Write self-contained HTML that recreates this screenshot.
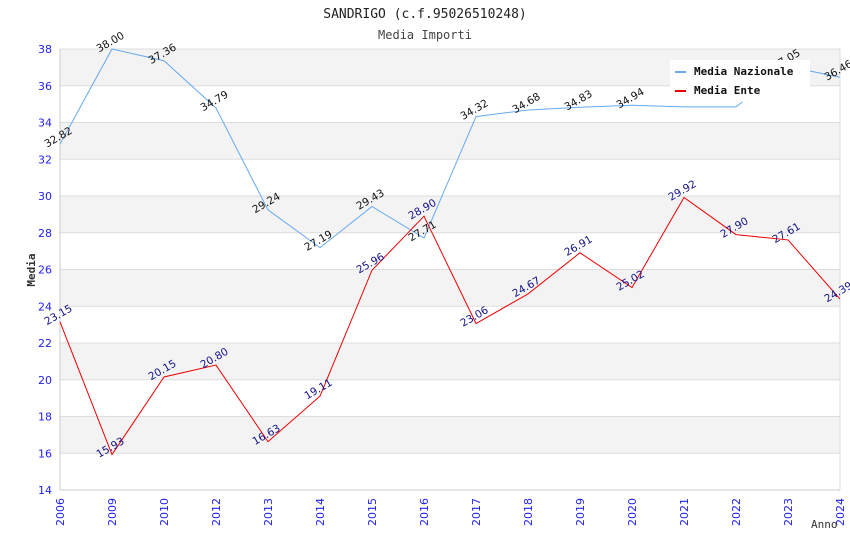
<!DOCTYPE html>
<html><head><meta charset="utf-8"><style>
body{margin:0;background:#fff;font-family:"DejaVu Sans Mono","Liberation Mono",monospace}
</style></head><body>
<svg id="c" width="850" height="550" xmlns="http://www.w3.org/2000/svg">
<text x="425" y="18" text-anchor="middle" font-size="13" fill="#222" font-family="DejaVu Sans Mono, monospace">SANDRIGO (c.f.95026510248)</text>
<text x="425" y="39" text-anchor="middle" font-size="12" fill="#444" font-family="DejaVu Sans Mono, monospace">Media Importi</text>
<g id="bands"></g><g id="grid"></g><g id="axes"></g><g id="lines"></g><g id="labels"></g>
<text transform="translate(35,270) rotate(-90)" text-anchor="middle" font-size="11" font-weight="bold" fill="#333">Media</text>
<text x="811" y="528" font-size="11" fill="#333">Anno</text>
<g>
<rect x="670" y="60" width="140" height="42" fill="#fff"/>
<line x1="675" y1="72" x2="686" y2="72" stroke="#66aaee" stroke-width="2"/>
<text x="694" y="75" font-size="11" font-weight="bold" fill="#111">Media Nazionale</text>
<line x1="675" y1="91" x2="686" y2="91" stroke="#ee0000" stroke-width="2"/>
<text x="694" y="94" font-size="11" font-weight="bold" fill="#111">Media Ente</text>
</g>
</svg>
<script>
const categories=["2006","2009","2010","2012","2013","2014","2015","2016","2017","2018","2019","2020","2021","2022","2023","2024"];
const nazionale=[32.82,38.00,37.36,34.79,29.24,27.19,29.43,27.71,34.32,34.68,34.83,34.94,34.85,34.85,37.05,36.46];
const ente=[23.15,15.93,20.15,20.80,16.63,19.11,25.96,28.90,23.06,24.67,26.91,25.02,29.92,27.90,27.61,24.39];
const yTicks=[14,16,18,20,22,24,26,28,30,32,34,36,38];
const hideNaz=["2021","2022"];
const L=60,R=840,T=49,B=490,ymin=14,ymax=38;
const ns="http://www.w3.org/2000/svg";
const xs=i=>L+i*(R-L)/(categories.length-1);
const ys=v=>B-(v-ymin)*(B-T)/(ymax-ymin);
function mk(t,a,p){const e=document.createElementNS(ns,t);for(const k in a)e.setAttribute(k,a[k]);p.appendChild(e);return e;}
const bands=document.getElementById('bands'),grid=document.getElementById('grid'),axes=document.getElementById('axes'),lines=document.getElementById('lines'),labels=document.getElementById('labels');
for(let i=0;i<yTicks.length-1;i++){if((yTicks.length-2-i)%2===0){const r=mk('rect',{x:L,y:ys(yTicks[i+1]),width:R-L,height:ys(yTicks[i])-ys(yTicks[i+1]),fill:'#f3f3f3'},bands);

}}
yTicks.forEach(v=>{const l=mk('line',{x1:L,x2:R,y1:ys(v),y2:ys(v),stroke:'#ddd'},grid);


const t=mk('text',{x:L-8,y:ys(v)+4,'text-anchor':'end','font-size':11,fill:'#2222ee','font-family':'DejaVu Sans, sans-serif'},axes);t.textContent=v;

});
mk('line',{x1:L,x2:L,y1:T,y2:B,stroke:'#ccc'},axes);
mk('line',{x1:L,x2:R,y1:B,y2:B,stroke:'#ccc'},axes);
mk('line',{x1:R,x2:R,y1:T,y2:B,stroke:'#ddd'},axes);
categories.forEach((c,i)=>{const t=mk('text',{transform:`translate(${xs(i)+4},${B+8}) rotate(-90)`,'text-anchor':'end','font-size':11,fill:'#2222ee','font-family':'DejaVu Sans, sans-serif'},axes);t.textContent=c;

});
function series(d,col,lc,name,hide){const p=mk('polyline',{points:d.map((v,i)=>xs(i)+','+ys(v)).join(' '),fill:'none',stroke:col,'stroke-width':1},lines);


d.forEach((v,i)=>{if(hide.includes(categories[i]))return;const t=mk('text',{transform:`translate(${xs(i)},${ys(v)-4}) rotate(-30)`,'text-anchor':'middle','font-size':10.5,fill:lc,'font-family':'DejaVu Sans, sans-serif'},labels);t.textContent=v.toFixed(2);

});}
series(nazionale,'#66aaee','#111','nazionale',hideNaz);
series(ente,'#ee0000','#111188','ente',[]);
</script>
</body></html>
